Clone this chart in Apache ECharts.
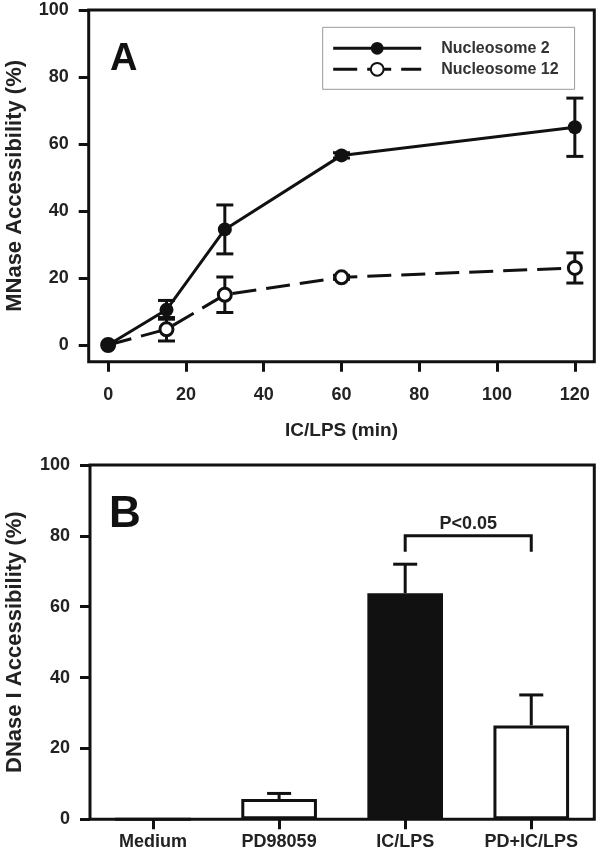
<!DOCTYPE html>
<html>
<head>
<meta charset="utf-8">
<script src="https://cdn.jsdelivr.net/npm/echarts@6/dist/echarts.min.js"></script>
<style>
html, body { margin: 0; padding: 0; background: #fff; }
#chart { width: 600px; height: 860px; }
</style>
</head>
<body>
<div id="chart"></div>
<script>
// ---- Panel A data ----
const minutes = [0, 15, 30, 60, 120];
const nucleosome2 = [0, 10.5, 34.5, 56.6, 65];
const nucleosome2Err = [0, 2.8, 7.3, 0.8, 8.7];
const nucleosome12 = [0, 4.7, 15, 20.2, 23];
const nucleosome12Err = [0, 3.5, 5.3, 0.6, 4.5];
const xTicksA = [0, 20, 40, 60, 80, 100, 120];
const yTicksA = [0, 20, 40, 60, 80, 100];

// ---- Panel B data ----
const treatments = ['Medium', 'PD98059', 'IC/LPS', 'PD+IC/LPS'];
const dnase = [0, 5.7, 63.8, 26.5];
const dnaseErr = [0, 1.6, 8.2, 8.6];
const yTicksB = [0, 20, 40, 60, 80, 100];
const sigPair = ['IC/LPS', 'PD+IC/LPS'];
const sigBracketValue = 80;
const sigLegValue = 75.5;
const sigText = 'P<0.05';
const filledTreatment = 'IC/LPS';

const FONT = "'Liberation Sans', Arial, sans-serif";
const INK = '#111';
const TXT = '#222';

const chart = echarts.init(document.getElementById('chart'), null, { renderer: 'canvas' });

function errBarRenderer(capHalf, upOnly) {
  return function (params, api) {
    const x = api.value(0), y = api.value(1), e = api.value(2);
    if (!e) return { type: 'group', children: [] };
    const top = api.coord([x, y + e]);
    const bot = upOnly ? api.coord([x, y]) : api.coord([x, y - e]);
    const st = { stroke: INK, lineWidth: 3 };
    const children = [
      { type: 'line', shape: { x1: top[0], y1: top[1], x2: bot[0], y2: bot[1] }, style: st },
      { type: 'line', shape: { x1: top[0] - capHalf, y1: top[1], x2: top[0] + capHalf, y2: top[1] }, style: st }
    ];
    if (!upOnly) {
      children.push({ type: 'line', shape: { x1: bot[0] - capHalf, y1: bot[1], x2: bot[0] + capHalf, y2: bot[1] }, style: st });
    }
    return { type: 'group', children };
  };
}

const axisLabelStyle = { color: TXT, fontSize: 18, fontWeight: 'bold', fontFamily: FONT };
const tickStyle = { show: true, inside: false, length: 10, lineStyle: { color: INK, width: 3 } };
const hiddenLine = { show: false, onZero: false };
const titleStyle = { color: TXT, fontSize: 22, fontWeight: 'bold', fontFamily: FONT };

const option = {
  animation: false,
  backgroundColor: '#fff',
  grid: [
    { left: 88.7, right: 5.7, top: 10, height: 351.75, outerBoundsMode: 'none', containLabel: false,
      show: true, borderColor: INK, borderWidth: 3, backgroundColor: 'transparent' },
    { left: 90, right: 5.7, top: 465, height: 354.3, outerBoundsMode: 'none', containLabel: false,
      show: true, borderColor: INK, borderWidth: 3, backgroundColor: 'transparent' }
  ],
  xAxis: [
    {
      gridIndex: 0, type: 'value', min: -5, max: 125,
      axisLine: hiddenLine,
      axisTick: Object.assign({ customValues: xTicksA }, tickStyle),
      axisLabel: Object.assign({ customValues: xTicksA, margin: 24 }, axisLabelStyle),
      splitLine: { show: false },
      name: 'IC/LPS (min)', nameLocation: 'middle', nameGap: 60,
      nameTextStyle: { color: TXT, fontSize: 19, fontWeight: 'bold', fontFamily: FONT }
    },
    {
      gridIndex: 1, type: 'category', data: treatments, boundaryGap: true,
      axisLine: hiddenLine,
      axisTick: Object.assign({ alignWithLabel: true }, tickStyle),
      axisLabel: Object.assign({ margin: 14, interval: 0 }, axisLabelStyle),
      splitLine: { show: false }
    }
  ],
  yAxis: [
    {
      gridIndex: 0, type: 'value', min: -5, max: 100,
      axisLine: hiddenLine,
      axisTick: Object.assign({ customValues: yTicksA }, tickStyle),
      axisLabel: Object.assign({ customValues: yTicksA, margin: 20 }, axisLabelStyle),
      splitLine: { show: false },
      name: 'MNase Accessibility (%)', nameLocation: 'middle', nameGap: 63,
      nameTextStyle: titleStyle
    },
    {
      gridIndex: 1, type: 'value', min: 0, max: 100, interval: 20,
      axisLine: hiddenLine,
      axisTick: tickStyle,
      axisLabel: Object.assign({ margin: 20 }, axisLabelStyle),
      splitLine: { show: false },
      name: 'DNase I Accessibility (%)', nameLocation: 'middle', nameGap: 64,
      nameTextStyle: titleStyle
    }
  ],
  legend: {
    data: ['Nucleosome 2', 'Nucleosome 12'],
    orient: 'vertical',
    left: 322.7, top: 27.3,
    padding: [13, 16, 12, 9],
    itemWidth: 88, itemHeight: 16, itemGap: 5,
    borderColor: '#999', borderWidth: 1,
    lineStyle: { width: 3 },
    textStyle: { color: '#333', fontSize: 16, fontWeight: 'bold', fontFamily: FONT, lineHeight: 16, padding: [0, 0, 0, 15] }
  },
  graphic: [
    { type: 'text', left: 110, top: 41, style: { text: 'A', fontSize: 38, fontWeight: 'bold', fill: INK, fontFamily: FONT } },
    { type: 'text', left: 109, top: 493, style: { text: 'B', fontSize: 44, fontWeight: 'bold', fill: INK, fontFamily: FONT } }
  ],
  series: [
    {
      type: 'custom', name: 'err2', xAxisIndex: 0, yAxisIndex: 0, z: 1,
      renderItem: errBarRenderer(8.5, false),
      data: minutes.map((m, i) => [m, nucleosome2[i], nucleosome2Err[i]]),
      encode: { x: 0, y: 1 }, silent: true
    },
    {
      type: 'custom', name: 'err12', xAxisIndex: 0, yAxisIndex: 0, z: 1,
      renderItem: errBarRenderer(8.5, false),
      data: minutes.map((m, i) => [m, nucleosome12[i], nucleosome12Err[i]]),
      encode: { x: 0, y: 1 }, silent: true
    },
    {
      type: 'line', name: 'Nucleosome 12', xAxisIndex: 0, yAxisIndex: 0, z: 3,
      data: minutes.map((m, i) => [m, nucleosome12[i]]),
      symbol: 'circle', symbolSize: 13,
      lineStyle: { color: INK, width: 3, type: [24, 10] },
      itemStyle: { color: '#fff', borderColor: INK, borderWidth: 3 }
    },
    {
      type: 'line', name: 'Nucleosome 2', xAxisIndex: 0, yAxisIndex: 0, z: 4,
      data: minutes.map((m, i) => [m, nucleosome2[i]]),
      symbol: 'circle', symbolSize: 14,
      lineStyle: { color: INK, width: 3 },
      itemStyle: { color: INK, borderColor: INK, borderWidth: 0 }
    },
    {
      type: 'bar', name: 'DNase', xAxisIndex: 1, yAxisIndex: 1, z: 2,
      barWidth: '60%',
      data: dnase,
      itemStyle: {
        color: (p) => p.name === filledTreatment ? INK : '#fff',
        borderColor: INK, borderWidth: 3
      }
    },
    {
      type: 'custom', name: 'errB', xAxisIndex: 1, yAxisIndex: 1, z: 1,
      renderItem: errBarRenderer(12, true),
      data: treatments.map((t, i) => [i, dnase[i], dnaseErr[i]]),
      encode: { x: 0, y: 1 }, silent: true
    },
    {
      type: 'custom', name: 'sig', xAxisIndex: 1, yAxisIndex: 1, z: 5,
      renderItem: function (params, api) {
        const a = api.coord([api.value(0), api.value(2)]);
        const b = api.coord([api.value(1), api.value(2)]);
        const legY = api.coord([api.value(0), api.value(3)])[1];
        return {
          type: 'group', children: [
            { type: 'polyline', shape: { points: [[a[0], legY], [a[0], a[1]], [b[0], b[1]], [b[0], legY]] },
              style: { stroke: INK, lineWidth: 3, fill: null } },
            { type: 'text', x: (a[0] + b[0]) / 2, y: a[1] - 12,
              style: { text: sigText, align: 'center', verticalAlign: 'middle', fontSize: 18, fontWeight: 'bold', fill: TXT, fontFamily: FONT } }
          ]
        };
      },
      data: [[treatments.indexOf(sigPair[0]), treatments.indexOf(sigPair[1]), sigBracketValue, sigLegValue]],
      encode: { x: [0, 1], y: 2 }, silent: true
    }
  ]
};
chart.setOption(option);
</script>
</body>
</html>
